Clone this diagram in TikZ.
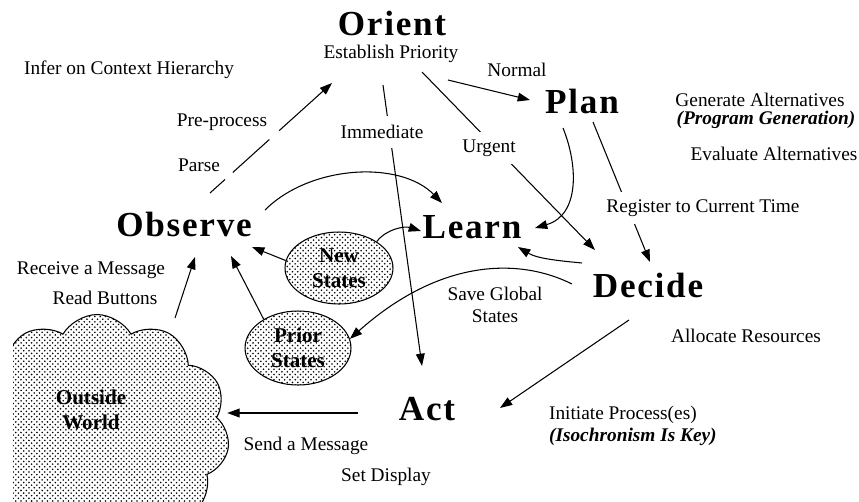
\documentclass[tikz,border=0pt]{standalone}
\usepackage{fontspec}
\setmainfont{Liberation Serif}
\newfontfamily\headfont[LetterSpace=5]{Liberation Serif}
\usetikzlibrary{arrows.meta,patterns,shapes.geometric,shapes.symbols}

\begin{document}
\begin{tikzpicture}[x=0.02cm,y=-0.02cm,
  phase/.style={font=\headfont\bfseries\fontsize{20}{24}\selectfont, inner sep=0pt, anchor=base},
  note/.style={font=\fontsize{11}{12.5}\selectfont, inner sep=1pt},
  gapnote/.style={note, fill=white, inner xsep=2pt, inner ysep=#1},
  states/.style={ellipse, draw, line width=0.6pt, pattern=crosshatch dots, font=\bfseries\fontsize{12}{14}\selectfont, align=center, inner sep=0pt},
  flow/.style={-{Triangle[length=7pt,width=5pt]}, line width=0.6pt}]
\useasboundingbox (0,0) rectangle (859,501);

% the phases
\node[phase] (orient) at (392,35) {Orient};
\node[note, anchor=base] (priority) at (391,58) {Establish Priority};
\node[phase] (plan) at (582,113) {Plan};
\node[phase] (observe) at (184,236) {Observe};
\node[phase] (learn) at (472,238) {Learn};
\node[phase] (decide) at (648,297) {Decide};
\node[phase] (act) at (427,420) {Act};

% stored states and the world
\node[states, minimum width=2.16cm, minimum height=1.44cm] (newst) at (339,268) {New\\States};
\node[states, minimum width=2.12cm, minimum height=1.48cm] (prior) at (298,348) {Prior\\States};
\begin{scope}
  \clip (13,0) rectangle (859,501);
  \node[cloud, cloud puffs=11, cloud puff arc=120, aspect=1.1, draw, line width=0.6pt, pattern=crosshatch dots,
        minimum width=5.3cm, minimum height=4.7cm] (world) at (97,432) {};
\end{scope}
\node[font=\bfseries\fontsize{12}{14}\selectfont, align=center] (worldname) at (91,410) {Outside\\World};

% connectors
\draw[flow, dash pattern=on 11.5pt off 6pt on 28pt off 7.5pt on 60pt]
  ([shift={(26,-43)}]observe.base) -- ([shift={(-59,25)}]priority.base);
\draw[flow] ([shift={(57,22)}]priority.base) -- ([shift={(-52,-13)}]plan.base);
\draw[flow] ([shift={(31,14)}]priority.base) -- ([shift={(-53,-47)}]decide.base);
\draw[flow] ([shift={(-8,27)}]priority.base) -- ([shift={(-5,-54)}]act.base);
\draw[flow] ([shift={(-19,15)}]plan.base) .. controls +(15,37) and +(45,-13) .. ([shift={(63,-10)}]learn.base);
\draw[flow] ([shift={(11,9)}]plan.base) -- ([shift={(2,-35)}]decide.base);
\draw[flow] ([shift={(81,-26)}]observe.base) .. controls +(45,-45) and +(-42,-43) .. ([shift={(-30,-35)}]learn.base);
\draw[flow] (newst.35) .. controls +(10,-13) and +(-16,-5) .. ([shift={(-51,-7)}]learn.base);
\draw[flow] (newst.172) -- ([shift={(68,11)}]observe.base);
\draw[flow] (prior.140) -- ([shift={(47,20)}]observe.base);
\draw[flow] ([shift={(78,4)}]world.north) -- ([shift={(11,21)}]observe.base);
\draw[flow] ([shift={(-66,-34)}]decide.base) .. controls +(-20,-2) and +(20,12) .. ([shift={(46,9)}]learn.base);
\draw[flow] ([shift={(-76,-13)}]decide.base) .. controls +(-52,-26) and +(91,-81) .. (prior.10);
\draw[flow] ([shift={(-19,23)}]decide.base) -- ([shift={(73,-12)}]act.base);
\draw[flow] ([shift={(-69,-7)}]act.base) coordinate (send) -- (send -| world.east);

% labels
\node[note] (infer) at (129,70) {Infer on Context Hierarchy};
\node[note] (normal) at (517,70) {Normal};
\node[note] (preproc) at (222,122) {Pre-process};
\node[note] (parse) at (199,165) {Parse};
\node[gapnote=5pt] (immediate) at (382,132) {Immediate};
\node[gapnote=4.5pt] (urgent) at (489,148) {Urgent};
\node[note] (generate) at (760,100) {Generate Alternatives};
\node[note, font=\bfseries\itshape\fontsize{11}{12.5}\selectfont] (proggen) at (766,120) {(Program Generation)};
\node[note] (evaluate) at (774,154) {Evaluate Alternatives};
\node[gapnote=4pt] (register) at (703,208) {Register to Current Time};
\node[note] (receive) at (91,270) {Receive a Message};
\node[note] (buttons) at (105,298) {Read Buttons};
\node[note, align=center] (saveglob) at (495,305) {Save Global\\States};
\node[note] (allocate) at (746,336) {Allocate Resources};
\node[note, align=left, anchor=west] (initiate) at (547,426) {Initiate Process(es)\\\textbf{\textit{(Isochronism Is Key)}}};
\node[note] (sendmsg) at (306,446) {Send a Message};
\node[note] (setdisp) at (386,477) {Set Display};
\end{tikzpicture}
\end{document}
